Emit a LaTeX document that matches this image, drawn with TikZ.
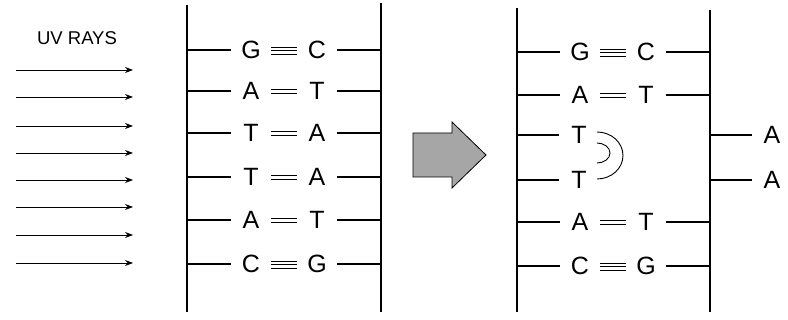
\documentclass[tikz,border=0pt]{standalone}
\usepackage{fontspec}
\setmainfont{Liberation Sans}
\usetikzlibrary{arrows.meta}
\begin{document}
\begin{tikzpicture}[x=1pt,y=-1pt,
  base/.style={font=\fontsize{25}{27}\selectfont, inner sep=0pt, minimum width=40pt, text height=18pt, text depth=0pt},
  bb/.style={line width=1.3pt},
  rung/.style={line width=1.1pt},
  bond/.style={line width=0.8pt},
  ray/.style={line width=0.8pt, -{Stealth[length=8pt,width=6pt]}},
  hbond/.style={line width=0.9pt}]
\useasboundingbox (0,0) rectangle (788,320);

% UV rays
\node[font=\fontsize{18.5}{20}\selectfont, inner sep=0pt] (uv) at (77,38) {UV RAYS};
\foreach \y [count=\i] in {70,97,126,153,180,207,235,263}{
  \coordinate (rs\i) at (16,\y);
  \coordinate (re\i) at (133,\y);
  \draw[ray] (rs\i) -- (re\i);
}

% Left DNA
\coordinate (alt) at (187,5);  \coordinate (alb) at (187,312);
\coordinate (art) at (381,3);  \coordinate (arb) at (381,312);
\draw[bb] (alt) -- (alb);
\draw[bb] (art) -- (arb);
\foreach \l/\r/\y/\n [count=\i] in {G/C/50/3, A/T/91/2, T/A/133/2, T/A/177/2, A/T/220/2, C/G/264/3}{
  \node[base] (aL\i) at (251,\y) {\l};
  \node[base] (aR\i) at (317,\y) {\r};
  \draw[rung] (alt |- aL\i.west) -- (aL\i.west);
  \draw[rung] (aR\i.east) -- (art |- aR\i.east);
  \ifnum\n=3
    \draw[bond] ([yshift=-4pt]aL\i.east) -- ([yshift=-4pt]aR\i.west);
    \draw[bond] ([yshift=-0.5pt]aL\i.east) -- ([yshift=-0.5pt]aR\i.west);
    \draw[bond] ([yshift=3pt]aL\i.east) -- ([yshift=3pt]aR\i.west);
  \else
    \draw[bond] ([yshift=-2.5pt]aL\i.east) -- ([yshift=-2.5pt]aR\i.west);
    \draw[bond] ([yshift=2pt]aL\i.east) -- ([yshift=2pt]aR\i.west);
  \fi
}

% Block arrow
\draw[line width=0.8pt, fill=black!35]
  (413,133) -- (452,133) -- (452,122) -- (486,155) -- (452,188) -- (452,177) -- (413,177) -- cycle;

% Right DNA
\coordinate (blt) at (517,8);   \coordinate (blb) at (517,312);
\coordinate (brt) at (710,10);  \coordinate (brb) at (710,312);
\draw[bb] (blt) -- (blb);
\draw[bb] (brt) -- (brb);
\foreach \l/\r/\y/\n [count=\i] in {G/C/52/3, A/T/95/2, A/T/222/2, C/G/266/3}{
  \node[base] (bL\i) at (580,\y) {\l};
  \node[base] (bR\i) at (646,\y) {\r};
  \draw[rung] (blt |- bL\i.west) -- (bL\i.west);
  \draw[rung] (bR\i.east) -- (brt |- bR\i.east);
  \ifnum\n=3
    \draw[bond] ([yshift=-4pt]bL\i.east) -- ([yshift=-4pt]bR\i.west);
    \draw[bond] ([yshift=-0.5pt]bL\i.east) -- ([yshift=-0.5pt]bR\i.west);
    \draw[bond] ([yshift=3pt]bL\i.east) -- ([yshift=3pt]bR\i.west);
  \else
    \draw[bond] ([yshift=-2.5pt]bL\i.east) -- ([yshift=-2.5pt]bR\i.west);
    \draw[bond] ([yshift=2pt]bL\i.east) -- ([yshift=2pt]bR\i.west);
  \fi
}
% thymine dimer
\node[base] (t1) at (579,135) {T};
\node[base] (t2) at (579,180) {T};
\draw[rung] (blt |- t1.west) -- (t1.west);
\draw[rung] (blt |- t2.west) -- (t2.west);
\coordinate (oa) at (597,132);
\coordinate (ia) at (597,143);
\draw[hbond] (oa) arc[start angle=-90, end angle=90, x radius=26, y radius=23.5];
\draw[hbond] (ia) arc[start angle=-90, end angle=90, x radius=13, y radius=10];
% released A's
\node[base] (a1) at (772,135) {A};
\node[base] (a2) at (772,180) {A};
\draw[rung] (brt |- a1.west) -- (a1.west);
\draw[rung] (brt |- a2.west) -- (a2.west);
\end{tikzpicture}
\end{document}
